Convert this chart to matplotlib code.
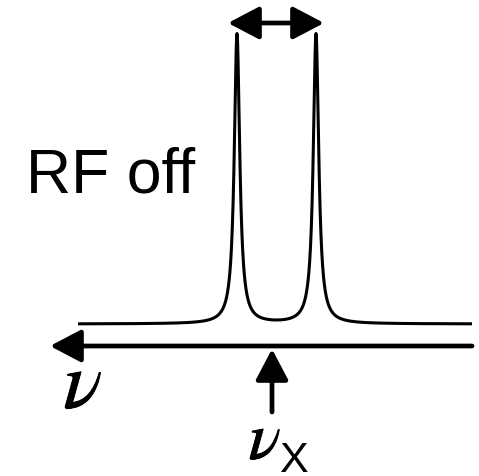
import numpy as np
import matplotlib.pyplot as plt
import matplotlib.patheffects as pe
from matplotlib.patches import FancyArrowPatch

plt.rcParams['mathtext.fontset'] = 'stix'

# doublet, in pixel-like units of the canvas
peak_centers = [237.0, 316.0]
peak_height = 290.0
half_width = 3.3
baseline_y = 325.0
x_start, x_end = 78.0, 472.0

freq = np.linspace(x_start, x_end, 4000)
signal = np.zeros_like(freq)
for c in peak_centers:
    signal += peak_height * half_width**2 / ((freq - c)**2 + half_width**2)

fig = plt.figure(figsize=(4.79, 4.77), dpi=100)
ax = fig.add_axes([0, 0, 1, 1])
ax.set_xlim(0, 479)
ax.set_ylim(477, 0)
ax.axis('off')

ax.plot(freq, baseline_y - signal, color='black', lw=2.2, solid_capstyle='butt')

def arrow(x0, y0, x1, y1, style):
    ax.add_patch(FancyArrowPatch((x0, y0), (x1, y1), arrowstyle=style,
                                 mutation_scale=1, lw=3.4, color='black',
                                 shrinkA=0, shrinkB=0))

# frequency axis, pointing left
arrow(472, 347, 50, 347, '-|>,head_length=19,head_width=10')
# splitting marker above the peaks
arrow(228, 24, 324, 24, '<|-|>,head_length=19,head_width=10')
# marker for nu_X
arrow(272, 413, 272, 350, '-|>,head_length=19,head_width=10')

heavy = [pe.withStroke(linewidth=0.6, foreground='black')]
ax.text(26, 193, 'RF off', fontsize=45, family='Liberation Sans', va='baseline', ha='left')
ax.text(83, 387, r'$\nu$', fontsize=58, va='center', ha='center', path_effects=heavy)
ax.text(265, 441, r'$\nu$', fontsize=48, va='center', ha='center', path_effects=heavy)
ax.text(293, 472, 'X', fontsize=31, family='Liberation Sans', va='baseline', ha='center')

fig.savefig('out.png', dpi=100)
